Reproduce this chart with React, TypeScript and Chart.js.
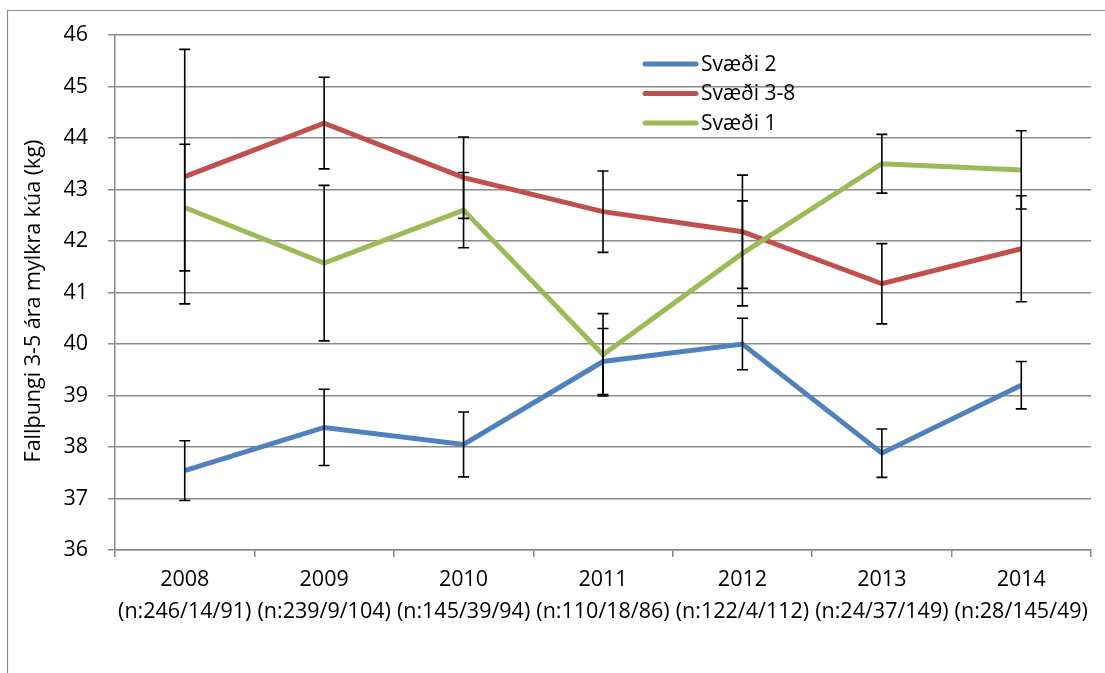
import React, { useEffect, useRef } from "react";
import { Chart, registerables } from "chart.js";

Chart.register(...registerables);

const categories = ["2008", "2009", "2010", "2011", "2012", "2013", "2014"];
const sampleSizes = [
  "(n:246/14/91)",
  "(n:239/9/104)",
  "(n:145/39/94)",
  "(n:110/18/86)",
  "(n:122/4/112)",
  "(n:24/37/149)",
  "(n:28/145/49)",
];

const svaedi2 = [37.54, 38.38, 38.05, 39.66, 40.0, 37.88, 39.2];
const svaedi2Err = [0.58, 0.74, 0.63, 0.64, 0.5, 0.47, 0.46];
const svaedi38 = [43.25, 44.29, 43.23, 42.57, 42.18, 41.17, 41.85];
const svaedi38Err = [2.47, 0.89, 0.79, 0.79, 1.1, 0.78, 1.03];
const svaedi1 = [42.65, 41.57, 42.6, 39.79, 41.76, 43.5, 43.38];
const svaedi1Err = [1.23, 1.51, 0.73, 0.8, 1.02, 0.57, 0.76];

const yTitle = "Fallþungi 3-5 ára mylkra kúa (kg)";
const FONT = "'Open Sans', sans-serif";
const GRID = "#8a8a8a";

const errorBarsPlugin = {
  id: "errorBars",
  afterDatasetsDraw(chart: any) {
    const ctx = chart.ctx;
    const y = chart.scales.y;
    ctx.save();
    ctx.strokeStyle = "#000";
    ctx.lineWidth = 1.6;
    chart.data.datasets.forEach((ds: any, di: number) => {
      const meta = chart.getDatasetMeta(di);
      ds.data.forEach((v: number, i: number) => {
        const e = ds.errors[i];
        const x = meta.data[i].x;
        const top = y.getPixelForValue(v + e);
        const bot = y.getPixelForValue(v - e);
        ctx.beginPath();
        ctx.moveTo(x, top);
        ctx.lineTo(x, bot);
        ctx.moveTo(x - 5.5, top);
        ctx.lineTo(x + 5.5, top);
        ctx.moveTo(x - 5.5, bot);
        ctx.lineTo(x + 5.5, bot);
        ctx.stroke();
      });
    });
    ctx.restore();
  },
};

const decorPlugin = {
  id: "decor",
  beforeDraw(chart: any) {
    const ctx = chart.ctx;
    ctx.save();
    ctx.fillStyle = "#fff";
    ctx.fillRect(0, 0, chart.width, chart.height);
    ctx.strokeStyle = "#8c8c8c";
    ctx.lineWidth = 1.2;
    ctx.beginPath();
    ctx.moveTo(7.5, chart.height);
    ctx.lineTo(7.5, 10.5);
    ctx.lineTo(chart.width, 10.5);
    ctx.stroke();
    ctx.restore();
  },
  afterDraw(chart: any) {
    const ctx = chart.ctx;
    ctx.save();
    // y axis title
    ctx.fillStyle = "#000";
    ctx.font = `21.5px ${FONT}`;
    ctx.textAlign = "center";
    ctx.textBaseline = "middle";
    ctx.translate(34, 301);
    ctx.rotate(-Math.PI / 2);
    ctx.fillText(yTitle, 0, 0);
    ctx.restore();

    // legend
    ctx.save();
    const order = [0, 1, 2];
    order.forEach((di, r) => {
      const ds = chart.data.datasets[di];
      const ly = 64 + r * 29.5;
      ctx.strokeStyle = ds.borderColor;
      ctx.lineWidth = 5;
      ctx.lineCap = "round";
      ctx.beginPath();
      ctx.moveTo(645, ly);
      ctx.lineTo(696, ly);
      ctx.stroke();
      ctx.fillStyle = "#000";
      ctx.font = `21px ${FONT}`;
      ctx.textAlign = "left";
      ctx.textBaseline = "middle";
      ctx.fillText(ds.label, 701, ly + 1);
    });
    ctx.restore();
  },
};

export default function App() {
  const ref = useRef<HTMLCanvasElement | null>(null);

  useEffect(() => {
    if (!ref.current) return;
    const chart = new Chart(ref.current, {
      type: "line",
      data: {
        labels: categories.map((c, i) => [c, sampleSizes[i]]),
        datasets: [
          {
            label: "Svæði 2",
            data: svaedi2,
            errors: svaedi2Err,
            borderColor: "#4F81BD",
            backgroundColor: "#4F81BD",
            borderWidth: 5,
            pointRadius: 0,
            tension: 0,
            order: 3,
          } as any,
          {
            label: "Svæði 3-8",
            data: svaedi38,
            errors: svaedi38Err,
            borderColor: "#C0504D",
            backgroundColor: "#C0504D",
            borderWidth: 5,
            pointRadius: 0,
            tension: 0,
            order: 2,
          } as any,
          {
            label: "Svæði 1",
            data: svaedi1,
            errors: svaedi1Err,
            borderColor: "#9BBB59",
            backgroundColor: "#9BBB59",
            borderWidth: 5,
            pointRadius: 0,
            tension: 0,
            order: 1,
          } as any,
        ],
      },
      options: {
        animation: false,
        responsive: false,
        maintainAspectRatio: false,
        layout: { padding: { top: 35, right: 14, left: 0, bottom: 0 } },
        plugins: {
          legend: { display: false },
          tooltip: { enabled: false },
        },
        scales: {
          x: {
            type: "category",
            offset: true,
            afterFit: (s: any) => {
              s.height = 123;
            },
            grid: {
              offset: true,
              drawOnChartArea: false,
              drawTicks: true,
              tickLength: 7,
              color: GRID,
              lineWidth: 1.5,
            },
            border: { color: GRID, width: 1.5 },
            ticks: {
              color: "#000",
              font: { family: FONT, size: 21.5, lineHeight: 1.49 },
              padding: 7,
              maxRotation: 0,
              autoSkip: false,
            },
          },
          y: {
            min: 36,
            max: 46,
            afterFit: (s: any) => {
              s.width = 115;
            },
            grid: {
              color: GRID,
              lineWidth: 1.5,
              drawTicks: true,
              tickLength: 7,
            },
            border: { color: GRID, width: 1.5 },
            ticks: {
              stepSize: 1,
              color: "#000",
              font: { family: FONT, size: 21.5 },
              padding: 20,
            },
          },
        },
      },
      plugins: [errorBarsPlugin, decorPlugin],
    } as any);
    return () => chart.destroy();
  }, []);

  return (
    <div style={{ position: "absolute", left: 0, top: 0, width: 1105, height: 673 }}>
      <canvas ref={ref} width={1105} height={673} />
    </div>
  );
}
